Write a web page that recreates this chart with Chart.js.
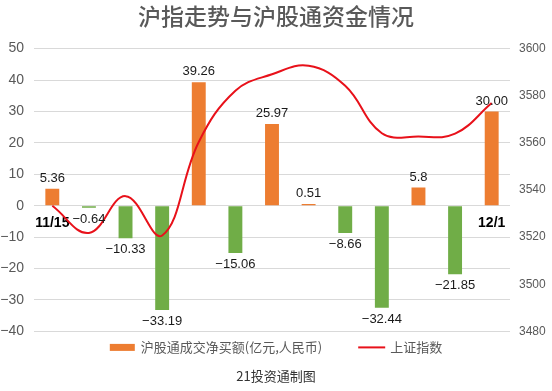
<!DOCTYPE html>
<html>
<head>
<meta charset="utf-8">
<script src="https://cdn.jsdelivr.net/npm/chart.js@4.4.1/dist/chart.umd.min.js"></script>
<style>
  html, body { margin: 0; padding: 0; background: #fff; }
</style>
</head>
<body>
<canvas id="chart" width="552" height="391"></canvas>
<script>
// Categories (trading days)
const categories = ['11/15', '11/16', '11/17', '11/18', '11/19', '11/22', '11/23', '11/24', '11/25', '11/26', '11/29', '11/30', '12/1'];
const shownDates = ['11/15', '12/1']; // only these are printed on the axis

// 沪股通成交净买额 (亿元)
const netBuy = [5.36, -0.64, -10.33, -33.19, 39.26, -15.06, 25.97, 0.51, -8.66, -32.44, 5.8, -21.85, 30.00];
const netBuyText = ['5.36', '-0.64', '-10.33', '-33.19', '39.26', '-15.06', '25.97', '0.51', '-8.66', '-32.44', '5.8', '-21.85', '30.00'];

// 上证指数 close
const shIndex = [3533.3, 3521.8, 3537.4, 3520.7, 3560.4, 3582.1, 3589.1, 3592.7, 3584.2, 3564.1, 3562.7, 3563.9, 3576.9];

// Axis ranges
const leftTicks = { min: -40, max: 50, step: 10 };
const rightTicks = { min: 3480, max: 3600, step: 20 };

const seriesNames = ['沪股通成交净买额(亿元,人民币)', '上证指数'];

const FONT = "'Liberation Sans', Arial, 'Noto Sans CJK SC', sans-serif";
const CJK = "'Noto Sans CJK SC', sans-serif";
const ORANGE = '#ED7D31';
const GREEN = '#70AD47';
const RED = '#E8111A';
const GREY = '#595959';

const minus = s => s.replace('-', '\u2212');

// Value labels above / below each bar
const barLabels = {
    id: 'barLabels',
    afterDatasetsDraw(chart) {
        const ctx = chart.ctx;
        const meta = chart.getDatasetMeta(0);
        ctx.save();
        ctx.font = '13px ' + FONT;
        ctx.fillStyle = '#1a1a1a';
        ctx.textAlign = 'center';
        meta.data.forEach((bar, i) => {
            if (netBuy[i] >= 0) {
                ctx.textBaseline = 'bottom';
                ctx.fillText(minus(netBuyText[i]), bar.x, bar.y - 4);
            } else {
                ctx.textBaseline = 'top';
                ctx.fillText(minus(netBuyText[i]), bar.x, bar.y + 5);
            }
        });
        ctx.restore();
    }
};

// Legend drawn by hand so the row sits close under the plot
const bottomLegend = {
    id: 'bottomLegend',
    afterDraw(chart) {
        const ctx = chart.ctx;
        ctx.save();
        ctx.font = '13px ' + CJK;
        const w1 = ctx.measureText(seriesNames[0]).width;
        const w2 = ctx.measureText(seriesNames[1]).width;
        const total = 25 + 6 + w1 + 36 + 27 + 5 + w2;
        let x = chart.width / 2 - total / 2;
        const y = chart.chartArea.bottom + 16;
        ctx.fillStyle = ORANGE;
        ctx.fillRect(x, y - 3.5, 25, 7);
        x += 31;
        ctx.fillStyle = GREY;
        ctx.textBaseline = 'middle';
        ctx.fillText(seriesNames[0], x, y);
        x += w1 + 36;
        ctx.strokeStyle = RED;
        ctx.lineWidth = 2;
        ctx.beginPath();
        ctx.moveTo(x, y);
        ctx.lineTo(x + 27, y);
        ctx.stroke();
        x += 32;
        ctx.fillText(seriesNames[1], x, y);
        ctx.restore();
    }
};

new Chart(document.getElementById('chart'), {
    data: {
        labels: categories,
        datasets: [{
            type: 'bar',
            label: seriesNames[0],
            data: netBuy,
            backgroundColor: ctx => (netBuy[ctx.dataIndex] >= 0 ? ORANGE : GREEN),
            categoryPercentage: 1,
            barPercentage: 0.38,
            yAxisID: 'y',
            order: 2
        }, {
            type: 'line',
            label: seriesNames[1],
            data: shIndex,
            borderColor: RED,
            borderWidth: 2,
            pointRadius: 0,
            tension: 0.4,
            yAxisID: 'y1',
            order: 1
        }]
    },
    options: {
        responsive: false,
        animation: false,
        layout: { padding: { left: 0, right: 0, top: 0, bottom: 7 } },
        scales: {
            x: {
                position: { y: 0 },
                grid: { display: false },
                border: { display: false },
                ticks: {
                    autoSkip: false,
                    maxRotation: 0,
                    padding: 1,
                    color: '#000',
                    font: { family: FONT, size: 14, weight: 'bold' },
                    callback: function (v, i) {
                        const lab = categories[i];
                        return shownDates.includes(lab) ? lab : '';
                    }
                }
            },
            y: {
                position: 'left',
                min: leftTicks.min,
                max: leftTicks.max,
                grid: { color: '#D9D9D9', drawTicks: false },
                border: { display: false },
                afterFit: s => { s.width = 34; },
                ticks: {
                    stepSize: leftTicks.step,
                    padding: 10,
                    color: GREY,
                    font: { family: FONT, size: 14 },
                    callback: v => minus(String(v))
                }
            },
            y1: {
                position: 'right',
                min: rightTicks.min,
                max: rightTicks.max,
                grid: { drawOnChartArea: false, drawTicks: false },
                border: { display: false },
                afterFit: s => { s.width = 42; },
                ticks: {
                    stepSize: rightTicks.step,
                    padding: 9,
                    color: GREY,
                    font: { family: FONT, size: 12 },
                    callback: v => String(v)
                }
            }
        },
        plugins: {
            tooltip: { enabled: false },
            legend: { display: false },
            title: {
                display: true,
                text: '沪指走势与沪股通资金情况',
                color: GREY,
                font: { family: CJK, size: 23, weight: 500 },
                padding: { top: 2, bottom: 19 }
            },
            subtitle: {
                display: true,
                position: 'bottom',
                text: '21投资通制图',
                color: '#333',
                font: { family: CJK, size: 13 },
                padding: { top: 37, bottom: 0 }
            }
        }
    },
    plugins: [barLabels, bottomLegend]
});
</script>
</body>
</html>
